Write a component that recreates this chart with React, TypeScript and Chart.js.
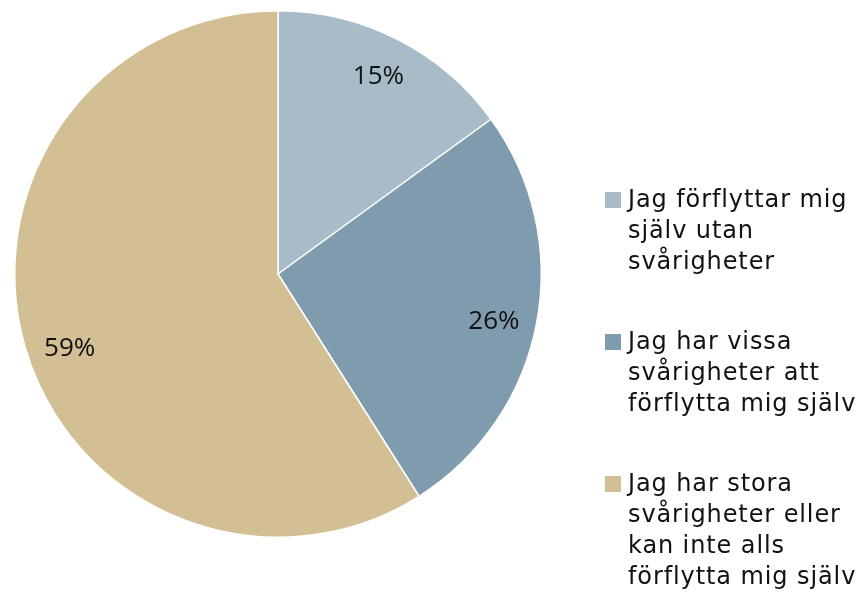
import React, { useEffect, useRef } from "react";
import { Chart, registerables } from "chart.js";

Chart.register(...registerables);

const categories = [
  "Jag förflyttar mig själv utan svårigheter",
  "Jag har vissa svårigheter att förflytta mig själv",
  "Jag har stora svårigheter eller kan inte alls förflytta mig själv",
];
const legendLines = [
  ["Jag förflyttar mig", "själv utan", "svårigheter"],
  ["Jag har vissa", "svårigheter att", "förflytta mig själv"],
  ["Jag har stora", "svårigheter eller", "kan inte alls", "förflytta mig själv"],
];
const values = [15, 26, 59];
const labels = ["15%", "26%", "59%"];
const labelAngleFraction = [0.5, 0.517, 0.484];
const colors = ["#A7BCC7", "#7F9CAE", "#D2BF94"];

const labelPlugin = {
  id: "sliceLabels",
  afterDatasetsDraw(chart: any) {
    const ctx = chart.ctx;
    const meta = chart.getDatasetMeta(0);
    ctx.save();
    ctx.fillStyle = "#111111";
    ctx.font = "26px 'Open Sans', 'Liberation Sans', sans-serif";
    ctx.textAlign = "center";
    ctx.textBaseline = "middle";
    meta.data.forEach((arc: any, i: number) => {
      const p = arc.getProps(["x", "y", "startAngle", "endAngle", "outerRadius"], true);
      const a = p.startAngle + (p.endAngle - p.startAngle) * labelAngleFraction[i];
      const r = p.outerRadius * 0.84;
      ctx.fillText(labels[i], p.x + Math.cos(a) * r, p.y + Math.sin(a) * r);
    });
    ctx.restore();
  },
};

export default function App() {
  const ref = useRef<HTMLCanvasElement>(null);
  useEffect(() => {
    if (!ref.current) return;
    const chart = new Chart(ref.current, {
      type: "pie",
      data: {
        labels: categories,
        datasets: [
          {
            data: values,
            backgroundColor: colors,
            borderColor: "#ffffff",
            borderWidth: 1.5,
          },
        ],
      },
      options: {
        animation: false,
        responsive: false,
        layout: { padding: { left: 14, right: 316, top: 10, bottom: 62 } },
        plugins: {
          legend: { display: false },
          tooltip: { enabled: false },
        },
      },
      plugins: [labelPlugin],
    });
    return () => chart.destroy();
  }, []);

  const tops = [190, 332, 474];
  return (
    <div style={{ position: "fixed", left: 0, top: 0, width: 858, height: 600, background: "#fff" }}>
      <canvas ref={ref} width={858} height={600} style={{ position: "absolute", left: 0, top: 0 }} />
      {legendLines.map((lines, i) => (
        <div key={i} style={{ position: "absolute", left: 605, top: tops[i] }}>
          <div
            style={{
              position: "absolute",
              left: 0,
              top: 2,
              width: 16,
              height: 16,
              background: colors[i],
            }}
          />
          <div
            style={{
              position: "absolute",
              left: 23,
              top: -6,
              whiteSpace: "nowrap",
              fontFamily: "'DejaVu Sans', sans-serif",
              fontSize: 24,
              letterSpacing: "0.9px",
              lineHeight: "31px",
              color: "#111",
            }}
          >
            {lines.map((l, j) => (
              <div key={j}>{l}</div>
            ))}
          </div>
        </div>
      ))}
    </div>
  );
}
